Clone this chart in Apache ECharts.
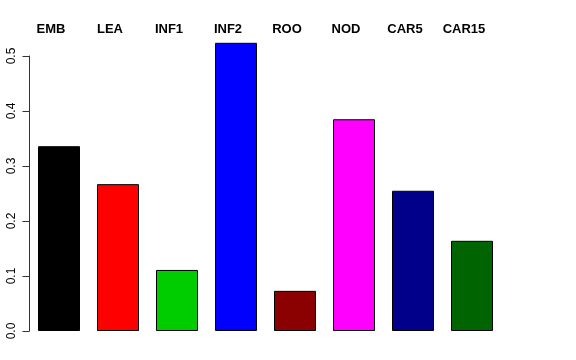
<!DOCTYPE html>
<html><head><meta charset="utf-8">
<script src="https://cdn.jsdelivr.net/npm/echarts@6/dist/echarts.min.js"></script>
<style>html,body{margin:0;padding:0;background:#fff}#c{width:576px;height:360px}</style>
</head><body><div id="c"></div>
<script>
const categories = ['EMB','LEA','INF1','INF2','ROO','NOD','CAR5','CAR15'];
const values = [0.336, 0.267, 0.111, 0.524, 0.073, 0.385, 0.255, 0.164];
const colors = ['#000000','#FF0000','#00CD00','#0000FF','#8B0000','#FF00FF','#00008B','#006400'];
const yTicks = [0, 0.1, 0.2, 0.3, 0.4, 0.5];

const chart = echarts.init(document.getElementById('c'), null, {renderer:'canvas'});
chart.setOption({
  animation:false,
  backgroundColor:'#fff',
  grid:{left:29.5, right:74.5, top:56, bottom:29, containLabel:false},
  xAxis:{
    type:'category', data:categories, position:'top', boundaryGap:true,
    axisLine:{show:false}, axisTick:{show:false},
    axisLabel:{fontFamily:'Liberation Sans, Arial, sans-serif', fontWeight:'bold', fontSize:13, color:'#000', margin:20, padding:[0,16,0,0]}
  },
  yAxis:{
    type:'value', min:0, max:0.5, interval:0.1,
    splitLine:{show:false},
    axisLine:{show:true, lineStyle:{color:'#333', width:1}},
    axisTick:{show:true, length:7, lineStyle:{color:'#333'}},
    axisLabel:{rotate:90, margin:12, fontFamily:'Liberation Sans, Arial, sans-serif', fontSize:12, color:'#000',
      formatter:v=>v.toFixed(1)}
  },
  series:[{
    type:'bar', clip:false, barWidth:42,
    data: values.map((v,i)=>({value:v, itemStyle:{color:colors[i]}})),
    itemStyle:{borderColor:'#000', borderWidth:1}
  }]
});
</script></body></html>
